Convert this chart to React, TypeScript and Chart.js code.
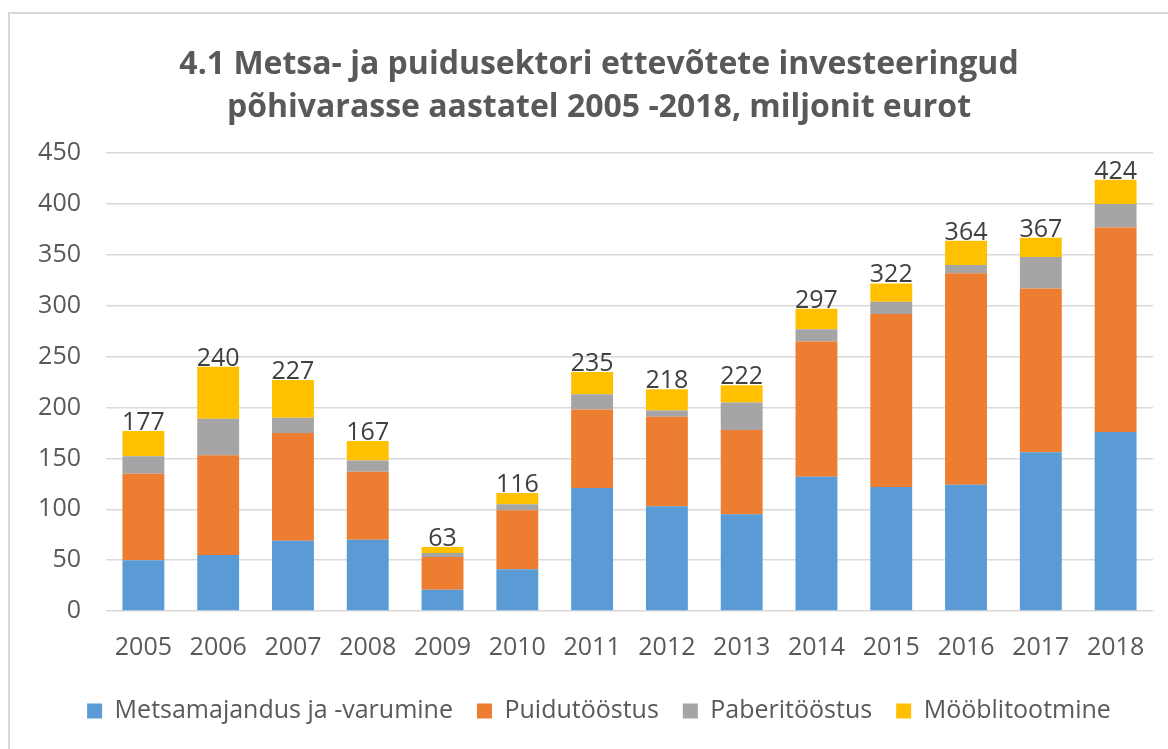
import { useEffect, useRef } from "react";
import { Chart, registerables } from "chart.js";

Chart.register(...registerables);

// ---- Data ----
const years = ["2005", "2006", "2007", "2008", "2009", "2010", "2011", "2012", "2013", "2014", "2015", "2016", "2017", "2018"];
const metsamajandus = [50, 55, 69, 70, 21, 41, 121, 103, 95, 132, 122, 124, 156, 176];
const puidutoostus = [85, 98, 106, 67, 32, 58, 77, 88, 83, 133, 170, 208, 161, 201];
const paberitoostus = [17, 36, 15, 11, 4, 6, 15, 6, 27, 12, 12, 8, 31, 23];
const mooblitootmine = [25, 51, 37, 19, 6, 11, 22, 21, 17, 20, 18, 24, 19, 24];
const totals = [177, 240, 227, 167, 63, 116, 235, 218, 222, 297, 322, 364, 367, 424];
const seriesNames = ["Metsamajandus ja -varumine", "Puidutööstus", "Paberitööstus", "Mööblitootmine"];
const seriesColors = ["#5B9BD5", "#ED7D31", "#A5A5A5", "#FFC000"];
const titleLines = [
  "4.1 Metsa- ja puidusektori ettevõtete investeeringud",
  "põhivarasse aastatel 2005 -2018, miljonit eurot",
];
const yMin = 0;
const yMax = 450;
const yStep = 50;

const FONT = "'Open Sans'";
const TEXT_COLOR = "#595959";

const totalsPlugin = {
  id: "totalsLabels",
  afterDatasetsDraw(chart: any) {
    const ctx = chart.ctx;
    const yScale = chart.scales.y;
    const lastMeta = chart.getDatasetMeta(chart.data.datasets.length - 1);
    ctx.save();
    ctx.font = `25px ${FONT}`;
    ctx.fillStyle = "#404040";
    ctx.textAlign = "center";
    ctx.textBaseline = "alphabetic";
    totals.forEach((t, i) => {
      const bar = lastMeta.data[i];
      const y = yScale.getPixelForValue(t);
      ctx.fillText(String(t), bar.x, y - 1);
    });
    ctx.restore();
  },
};

export default function App() {
  const canvasRef = useRef<HTMLCanvasElement | null>(null);

  useEffect(() => {
    if (!canvasRef.current) return;
    const seriesData = [metsamajandus, puidutoostus, paberitoostus, mooblitootmine];
    const chart = new Chart(canvasRef.current, {
      type: "bar",
      data: {
        labels: years,
        datasets: seriesData.map((d, i) => ({
          label: seriesNames[i],
          data: d,
          backgroundColor: seriesColors[i],
          borderWidth: 0,
          categoryPercentage: 1,
          barPercentage: 0.56,
        })),
      },
      options: {
        responsive: false,
        animation: false,
        devicePixelRatio: 1,
        layout: { padding: { left: 30, right: 0, top: 43.5, bottom: 15.5 } },
        plugins: {
          title: {
            display: true,
            text: titleLines,
            color: TEXT_COLOR,
            font: { family: FONT, size: 32, weight: "bold", lineHeight: 1.35 },
            padding: { top: 0, bottom: 23.3 },
          },
          legend: {
            position: "bottom",
            labels: {
              boxWidth: 15,
              boxHeight: 15,
              padding: 24,
              color: TEXT_COLOR,
              font: { family: FONT, size: 25 },
            },
          },
          tooltip: { enabled: false },
        },
        scales: {
          x: {
            stacked: true,
            grid: { display: false },
            border: { display: false },
            ticks: { color: TEXT_COLOR, font: { family: FONT, size: 25 }, padding: 14 },
            afterFit: (s: any) => {
              s.height = 63.5;
            },
          },
          y: {
            stacked: true,
            min: yMin,
            max: yMax,
            ticks: { stepSize: yStep, color: TEXT_COLOR, font: { family: FONT, size: 25 }, padding: 25 },
            grid: { color: "#d9d9d9", lineWidth: 1.5, drawTicks: false },
            border: { display: false },
            afterFit: (s: any) => {
              s.width = 76;
            },
          },
          spacer: {
            type: "linear",
            position: "right",
            display: true,
            grid: { display: false },
            ticks: { display: false },
            border: { display: false },
            afterFit: (s: any) => {
              s.width = 15;
            },
          },
        },
      },
      plugins: [totalsPlugin],
    });
    return () => chart.destroy();
  }, []);

  return (
    <div style={{ position: "absolute", left: 0, top: 0, width: 1168, height: 749, overflow: "hidden", background: "#fff" }}>
      <div
        style={{
          position: "absolute",
          left: 8,
          top: 12,
          width: 1170,
          height: 760,
          borderLeft: "2px solid #d9d9d9",
          borderTop: "2px solid #d9d9d9",
        }}
      />
      <canvas ref={canvasRef} width={1168} height={749} style={{ position: "absolute", left: 0, top: 0, display: "block" }} />
    </div>
  );
}
